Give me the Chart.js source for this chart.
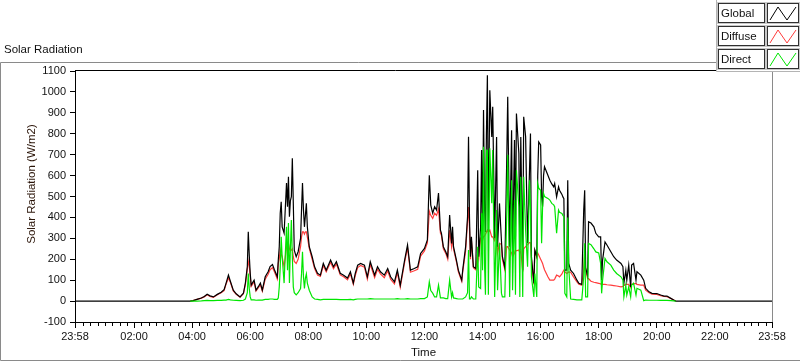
<!DOCTYPE html>
<html>
<head>
<meta charset="utf-8">
<script src="https://cdn.jsdelivr.net/npm/chart.js@4.4.1/dist/chart.umd.min.js"></script>
<style>
  html, body { margin: 0; padding: 0; background: #fff; }
  #wrap { width: 800px; height: 361px; position: relative; }
</style>
</head>
<body>
<div id="wrap"><canvas id="chart" width="800" height="361"></canvas></div>
<script>
// series names / colours (legend order)
const seriesNames = ['Global', 'Diffuse', 'Direct'];
const seriesColors = ['#000000', '#ff3c3c', '#00e600'];

// x axis: minutes since midnight, the axis runs 23:58 -> 23:58
const timeTicks = [-2, 120, 240, 360, 480, 600, 720, 840, 960, 1080, 1200, 1320, 1438];
const yTicks = [-100, 0, 100, 200, 300, 400, 500, 600, 700, 800, 900, 1000, 1100];

// sample times (minutes since midnight)
const times = [
  -2, 236, 242, 250, 259, 265, 271, 277, 284, 292, 300, 306, 310, 315, 319, 325, 331, 339, 346, 350,
  354, 356, 358, 360, 362, 368, 372, 377, 381, 385, 391, 397, 401, 406, 410, 416, 418, 420, 422, 424,
  426, 430, 432, 435, 437, 439, 441, 443, 445, 447, 449, 451, 455, 459, 464, 466, 468, 470, 472, 474,
  476, 478, 482, 488, 493, 499, 505, 511, 517, 526, 532, 538, 546, 553, 561, 567, 573, 577, 582, 588,
  596, 602, 608, 617, 623, 629, 637, 644, 650, 658, 664, 670, 679, 685, 691, 699, 706, 712, 720, 726,
  730, 733, 737, 741, 745, 749, 753, 755, 759, 764, 768, 772, 776, 778, 780, 786, 790, 797, 799, 805,
  809, 811, 813, 815, 817, 821, 826, 830, 832, 836, 838, 840, 842, 844, 846, 848, 850, 852, 855, 859,
  861, 865, 869, 871, 875, 879, 881, 886, 890, 892, 896, 900, 902, 906, 908, 910, 915, 917, 919, 923,
  925, 929, 933, 937, 939, 941, 946, 948, 952, 954, 956, 960, 962, 964, 966, 968, 975, 979, 983, 987,
  989, 993, 997, 999, 1004, 1006, 1008, 1010, 1014, 1016, 1018, 1022, 1028, 1035, 1039, 1045, 1049, 1051, 1053, 1057,
  1059, 1064, 1070, 1074, 1080, 1084, 1086, 1088, 1093, 1097, 1105, 1111, 1117, 1126, 1130, 1132, 1136, 1138, 1142, 1146,
  1148, 1152, 1157, 1159, 1167, 1173, 1177, 1184, 1190, 1200, 1208, 1215, 1221, 1229, 1235, 1239, 1438
];

const globalRad = [
  0, 0, 2, 8, 15, 22, 33, 25, 20, 32, 42, 55, 85, 124, 95, 52, 35, 20, 38, 86,
  165, 331, 220, 133, 77, 100, 52, 70, 86, 52, 116, 140, 165, 175, 150, 116, 196, 260, 420, 475,
  355, 325, 420, 564, 451, 594, 403, 480, 499, 683, 468, 244, 212, 236, 300, 435, 564, 435, 355, 410,
  468, 355, 260, 212, 164, 133, 124, 180, 148, 196, 164, 188, 133, 124, 110, 140, 86, 132, 172, 180,
  172, 116, 188, 124, 164, 140, 124, 156, 116, 92, 148, 76, 196, 268, 148, 156, 164, 228, 252, 292,
  602, 459, 420, 451, 435, 516, 339, 325, 260, 236, 212, 411, 276, 355, 260, 196, 148, 100, 148, 260,
  403, 786, 400, 212, 307, 164, 156, 626, 212, 355, 722, 300, 913, 450, 330, 800, 1080, 339, 1008, 785,
  929, 300, 785, 260, 467, 290, 212, 160, 682, 977, 260, 817, 230, 770, 307, 897, 706, 244, 785, 148,
  881, 785, 276, 626, 801, 212, 85, 244, 212, 600, 761, 746, 500, 451, 600, 642, 602, 578, 560, 546,
  562, 498, 546, 530, 510, 498, 490, 148, 148, 578, 180, 148, 132, 100, 85, 80, 435, 530, 160, 120,
  379, 373, 355, 324, 307, 307, 100, 196, 283, 268, 236, 212, 196, 180, 164, 85, 148, 100, 172, 68,
  172, 180, 100, 140, 124, 100, 61, 44, 37, 36, 29, 24, 24, 13, 5, 0, 0
];

const diffuseRad = [
  null, 0, 2, 8, 14, 20, 30, 22, 18, 30, 40, 50, 80, 110, 90, 48, 32, 18, 35, 80,
  150, 190, 170, 120, 70, 92, 48, 64, 78, 47, 105, 128, 150, 160, 140, 105, 180, 200, 244, 225,
  212, 164, 200, 260, 250, 276, 250, 240, 244, 250, 212, 190, 180, 200, 260, 307, 331, 331, 320, 331,
  331, 307, 252, 200, 155, 125, 118, 170, 140, 186, 155, 178, 125, 116, 102, 130, 80, 122, 160, 170,
  162, 105, 176, 112, 152, 130, 112, 145, 105, 82, 136, 66, 185, 255, 138, 145, 152, 215, 240, 278,
  430, 410, 395, 420, 410, 440, 325, 315, 250, 228, 200, 339, 260, 307, 250, 188, 140, 95, 140, 240,
  380, 450, 350, 200, 290, 160, 150, 230, 200, 300, 307, 290, 310, 310, 320, 330, 339, 330, 339, 307,
  307, 290, 339, 230, 276, 270, 200, 150, 260, 260, 244, 230, 212, 230, 244, 240, 244, 230, 240, 140,
  250, 260, 270, 280, 280, 200, 80, 240, 210, 230, 220, 200, 190, 180, 164, 150, 116, 100, 100, 100,
  105, 124, 120, 116, 130, 140, 148, 140, 132, 135, 140, 138, 116, 92, 80, 76, 150, 236, 148, 108,
  108, 95, 90, 88, 85, 82, 80, 80, 80, 78, 76, 74, 72, 68, 70, 75, 80, 80, 80, 65,
  80, 82, 85, 80, 76, 76, 52, 40, 33, 32, 26, 22, 21, 12, 5, 0, null
];

const directRad = [
  null, 0, 0, 0, 1, 2, 3, 2, 2, 3, 3, 5, 5, 8, 6, 4, 3, 2, 4, 10,
  40, 132, 60, 20, 6, 6, 4, 5, 5, 5, 8, 8, 10, 10, 8, 8, 15, 68, 160, 307,
  212, 86, 200, 355, 148, 373, 86, 250, 387, 212, 68, 40, 30, 40, 60, 130, 236, 116, 60, 110,
  130, 86, 52, 20, 10, 8, 6, 8, 8, 8, 8, 8, 7, 7, 7, 8, 6, 8, 10, 10,
  10, 10, 12, 10, 10, 10, 10, 10, 10, 10, 12, 10, 10, 12, 10, 10, 10, 12, 12, 20,
  92, 50, 38, 20, 20, 76, 15, 15, 15, 12, 12, 100, 20, 40, 15, 12, 10, 10, 10, 20,
  40, 244, 10, 10, 20, 10, 10, 260, 68, 60, 420, 148, 738, 180, 30, 722, 720, 30, 731, 468,
  722, 20, 435, 52, 276, 38, 20, 20, 420, 700, 20, 578, 52, 483, 30, 626, 450, 20, 594, 20,
  594, 339, 164, 578, 450, 116, 20, 132, 20, 562, 540, 530, 276, 450, 515, 500, 491, 483, 467, 460,
  451, 324, 435, 425, 419, 410, 403, 37, 20, 400, 164, 10, 8, 6, 6, 6, 116, 276, 20, 20,
  276, 270, 250, 235, 230, 180, 37, 100, 204, 188, 172, 148, 132, 116, 100, 20, 76, 29, 68, 20,
  76, 85, 29, 61, 52, 2, 5, 4, 4, 4, 3, 3, 3, 2, 1, 0, null
];

const seriesValues = [globalRad, diffuseRad, directRad];

function hhmm(v) {
  const m = ((Math.round(v) % 1440) + 1440) % 1440;
  return String(Math.floor(m / 60)).padStart(2, '0') + ':' + String(m % 60).padStart(2, '0');
}

const FONT = 'Liberation Sans, Arial, sans-serif';
const textCol = '#111';

// frame, minor ticks, titles and the LabVIEW style legend
const framePlugin = {
  id: 'frame',
  afterDraw(chart) {
    const ctx = chart.ctx;
    const a = chart.chartArea;
    const xs = chart.scales.x;
    ctx.save();
    ctx.lineWidth = 1;

    // outer panel frame
    ctx.strokeStyle = '#8a8a8a';
    ctx.beginPath();
    ctx.moveTo(716, 62.5);
    ctx.lineTo(0.5, 62.5);
    ctx.lineTo(0.5, 360.5);
    ctx.lineTo(800, 360.5);
    ctx.stroke();

    // plot top (black) and right (grey) edges
    ctx.strokeStyle = '#000';
    ctx.beginPath();
    ctx.moveTo(a.left, a.top - 0.5);
    ctx.lineTo(716, a.top - 0.5);
    ctx.stroke();
    ctx.strokeStyle = '#8a8a8a';
    ctx.beginPath();
    ctx.moveTo(a.right + 0.5, a.top);
    ctx.lineTo(a.right + 0.5, a.bottom);
    ctx.stroke();

    // minor ticks on the time axis every 15 min
    ctx.strokeStyle = '#000';
    ctx.beginPath();
    for (let m = 15; m < 1438; m += 15) {
      if (m % 120 === 0) continue;
      const px = Math.round(xs.getPixelForValue(m)) + 0.5;
      ctx.moveTo(px, a.bottom);
      ctx.lineTo(px, a.bottom + 4);
    }
    ctx.stroke();

    // chart caption
    ctx.fillStyle = textCol;
    ctx.font = '11.5px ' + FONT;
    ctx.textAlign = 'left';
    ctx.textBaseline = 'middle';
    ctx.fillText('Solar Radiation', 4, 50);

    // y axis title
    ctx.save();
    ctx.translate(32, 184);
    ctx.rotate(-Math.PI / 2);
    ctx.textAlign = 'center';
    ctx.fillStyle = '#2a1408';
    ctx.fillText('Solar Radiation (W/m2)', 0, 0);
    ctx.restore();

    // legend panel
    ctx.fillStyle = '#fff';
    ctx.fillRect(716, 0, 84, 72);
    ctx.strokeStyle = '#b4b4b4';
    ctx.beginPath();
    ctx.moveTo(716.5, 0);
    ctx.lineTo(716.5, 71.5);
    ctx.lineTo(800, 71.5);
    ctx.stroke();
    seriesNames.forEach((name, i) => {
      const y0 = 3 + i * 23;
      ctx.strokeStyle = '#c8c8c8';
      ctx.strokeRect(717.5, y0 - 0.5, 48, 21);
      ctx.strokeRect(766.5, y0 - 0.5, 33, 21);
      ctx.strokeStyle = '#303030';
      ctx.strokeRect(718.5, y0 + 0.5, 46, 19);
      ctx.strokeRect(767.5, y0 + 0.5, 31, 19);
      ctx.fillStyle = textCol;
      ctx.textAlign = 'left';
      ctx.fillText(name, 721, y0 + 10.5);
      ctx.strokeStyle = seriesColors[i];
      ctx.beginPath();
      ctx.moveTo(770, y0 + 17);
      ctx.lineTo(778, y0 + 4);
      ctx.lineTo(787, y0 + 17);
      ctx.lineTo(796, y0 + 4);
      ctx.stroke();
    });
    ctx.restore();
  }
};

const drawOrder = [2, 3, 1]; // red lowest, black above it, green on top

new Chart(document.getElementById('chart'), {
  type: 'line',
  data: {
    datasets: seriesNames.map((name, i) => ({
      label: name,
      data: times.map((t, k) => ({ x: t, y: seriesValues[i][k] })),
      borderColor: seriesColors[i],
      backgroundColor: seriesColors[i],
      borderWidth: 1.2,
      pointRadius: 0,
      tension: 0,
      fill: false,
      order: drawOrder[i]
    }))
  },
  options: {
    responsive: false,
    animation: false,
    events: [],
    layout: { padding: { top: 71, right: 28, left: 0, bottom: 0 } },
    plugins: { legend: { display: false }, tooltip: { enabled: false } },
    scales: {
      x: {
        type: 'linear',
        min: -2,
        max: 1438,
        afterBuildTicks: (s) => { s.ticks = timeTicks.map(v => ({ value: v })); },
        afterFit: (s) => { s.height = 39; },
        ticks: {
          autoSkip: false,
          maxRotation: 0,
          padding: 2,
          color: textCol,
          font: { family: FONT, size: 11 },
          callback: (v) => hhmm(v)
        },
        grid: { drawOnChartArea: false, drawTicks: true, tickLength: 6, color: '#000' },
        border: { color: '#000', width: 1 },
        title: {
          display: true,
          text: 'Time',
          color: textCol,
          font: { family: FONT, size: 11.5 },
          padding: { top: 0, bottom: 1 }
        }
      },
      y: {
        min: -100,
        max: 1100,
        afterBuildTicks: (s) => { s.ticks = yTicks.map(v => ({ value: v })); },
        afterFit: (s) => { s.width = 75; },
        ticks: {
          padding: 4,
          color: textCol,
          font: { family: FONT, size: 11 },
          callback: (v) => String(v)
        },
        grid: { drawOnChartArea: false, drawTicks: true, tickLength: 5, color: '#000' },
        border: { color: '#000', width: 1 }
      }
    }
  },
  plugins: [framePlugin]
});
</script>
</body>
</html>
